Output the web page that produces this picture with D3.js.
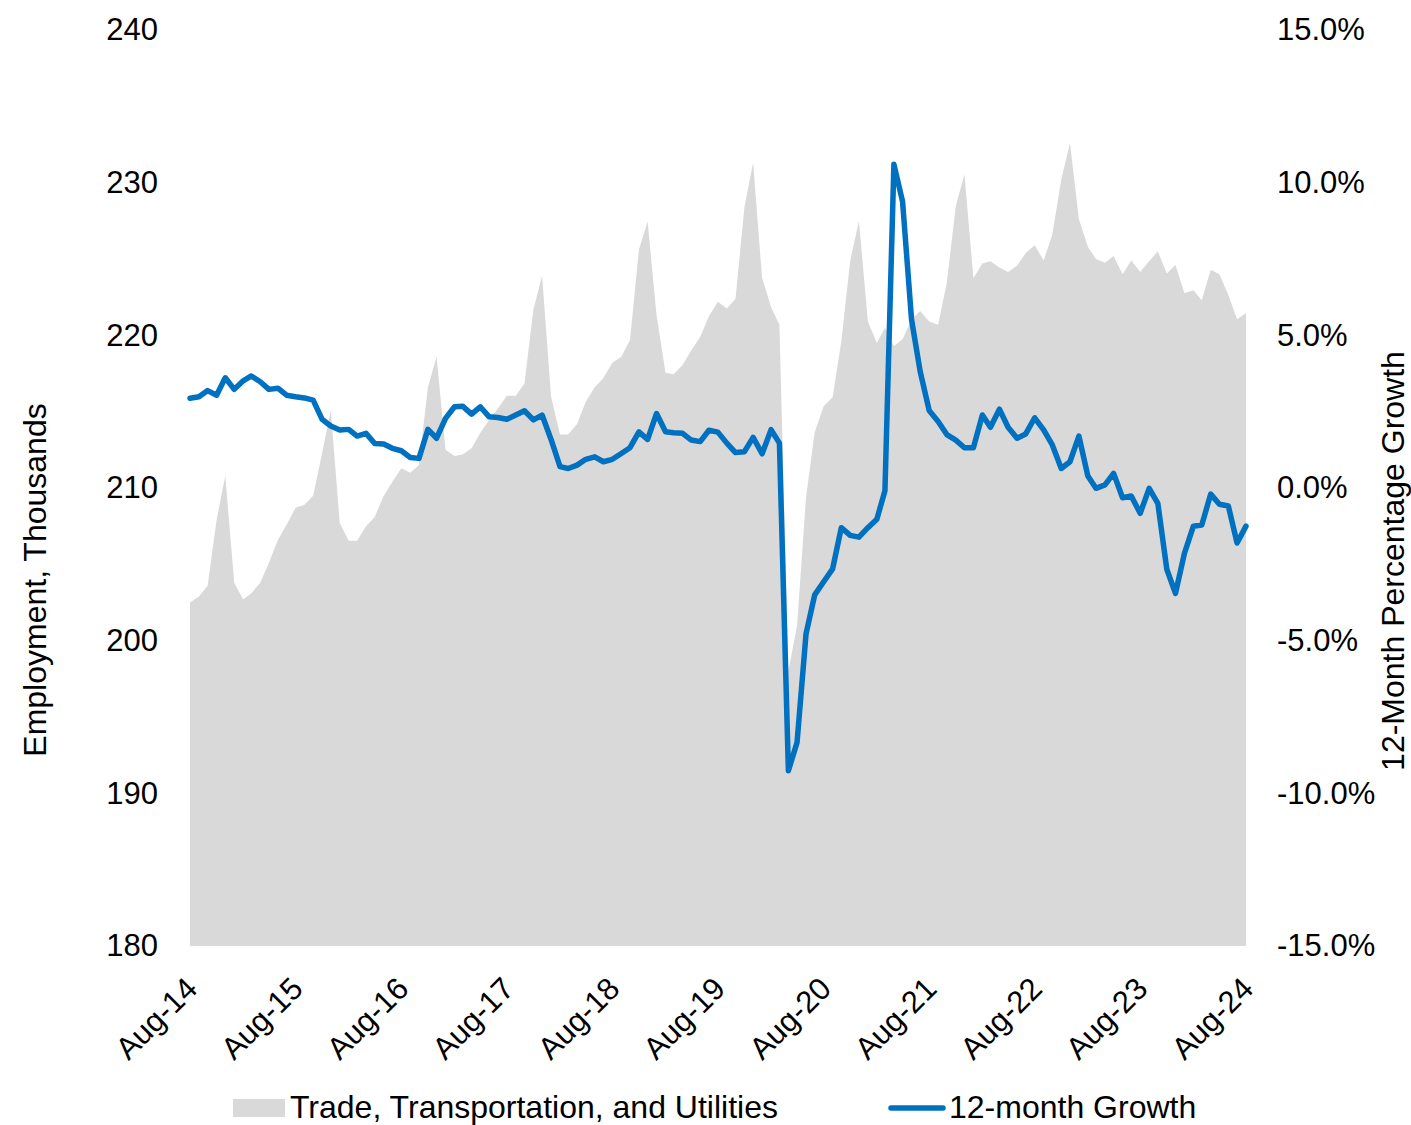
<!DOCTYPE html>
<html>
<head>
<meta charset="utf-8">
<script src="https://cdn.jsdelivr.net/npm/d3@7"></script>
<style>
  html, body { margin: 0; padding: 0; background: #fff; }
  svg text { font-family: "Liberation Sans", Arial, sans-serif; fill: #000; }
</style>
</head>
<body>
<svg id="chart" width="1411" height="1125"></svg>
<script>
// Monthly, Aug 2014 .. Aug 2024
const startMonth = new Date(2014, 7, 1);
const endMonth = new Date(2024, 7, 1);

// Employment, thousands (Trade, Transportation, and Utilities)
const employment = [
  202.5, 202.9, 203.6, 207.9, 210.8, 203.8, 202.7, 203.1, 203.8, 205.1, 206.6, 207.6,
  208.7, 208.9, 209.5, 212.3, 215.1, 207.7, 206.55, 206.55, 207.5, 208.1, 209.5, 210.4,
  211.3, 211.0, 211.5, 216.6, 218.6, 212.5, 212.1, 212.2, 212.6, 213.6, 214.45, 215.2,
  216.05, 216.05, 216.85, 221.7, 223.9, 216.0, 213.5, 213.5, 214.2, 215.65, 216.6, 217.2,
  218.2, 218.6, 219.7, 225.6, 227.45, 221.3, 217.55, 217.45, 218.05, 219.0, 219.9, 221.25,
  222.2, 221.75, 222.4, 228.4, 231.3, 223.75, 221.85, 220.7, 198.0, 201.0, 209.4, 213.65,
  215.35, 215.95, 219.6, 224.9, 227.5, 220.9, 219.5, 220.5, 219.3, 219.75, 221.05, 221.6,
  220.9, 220.7, 223.45, 228.45, 230.55, 223.75, 224.7, 224.85, 224.45, 224.15, 224.55, 225.4,
  225.9, 224.9, 226.6, 230.2, 232.6, 227.6, 225.8, 225.0, 224.75, 225.2, 224.0, 224.9,
  224.15, 224.85, 225.5, 224.05, 224.6, 222.75, 222.95, 222.3, 224.3, 224.0, 222.65, 221.05,
  221.45
];

// 12-month growth, percent
const growth = [
  2.94, 2.99, 3.19, 3.04, 3.61, 3.23, 3.51, 3.67, 3.48, 3.23, 3.27, 3.04,
  2.99, 2.95, 2.88, 2.25, 2.03, 1.90, 1.92, 1.70, 1.79, 1.46, 1.44, 1.30,
  1.22, 1.00, 0.97, 1.92, 1.63, 2.28, 2.66, 2.68, 2.42, 2.66, 2.33, 2.31,
  2.25, 2.39, 2.53, 2.23, 2.39, 1.59, 0.70, 0.64, 0.75, 0.94, 1.02, 0.86,
  0.94, 1.13, 1.32, 1.84, 1.59, 2.44, 1.84, 1.81, 1.79, 1.57, 1.52, 1.89,
  1.83, 1.47, 1.16, 1.19, 1.66, 1.12, 1.91, 1.47, -9.26, -8.33, -4.78, -3.50,
  -3.07, -2.65, -1.30, -1.55, -1.61, -1.30, -1.02, -0.09, 10.60, 9.38, 5.52, 3.81,
  2.54, 2.18, 1.75, 1.57, 1.32, 1.32, 2.39, 1.99, 2.58, 1.99, 1.63, 1.77,
  2.30, 1.90, 1.41, 0.64, 0.86, 1.70, 0.39, -0.01, 0.10, 0.48, -0.32, -0.26,
  -0.83, -0.01, -0.50, -2.66, -3.45, -2.14, -1.25, -1.21, -0.20, -0.53, -0.59, -1.80,
  -1.25
];

const leftTicks = [180, 190, 200, 210, 220, 230, 240];
const rightTicks = [-15, -10, -5, 0, 5, 10, 15];
const xTickLabels = ["Aug-14", "Aug-15", "Aug-16", "Aug-17", "Aug-18", "Aug-19",
                     "Aug-20", "Aug-21", "Aug-22", "Aug-23", "Aug-24"];

const seriesNames = ["Trade, Transportation, and Utilities", "12-month Growth"];

const months = d3.timeMonth.range(startMonth, d3.timeMonth.offset(endMonth, 1));
const data = months.map((d, i) => ({ date: d, emp: employment[i], g: growth[i] }));

const svg = d3.select("#chart");
const FS = 31;
const FONT = "Liberation Sans, Arial, sans-serif";
const plot = { left: 190, right: 1246, top: 30, bottom: 946 };

const x = d3.scaleTime().domain([startMonth, endMonth]).range([plot.left, plot.right]);
const yL = d3.scaleLinear().domain([180, 240]).range([plot.bottom, plot.top]);
const yR = d3.scaleLinear().domain([-15, 15]).range([plot.bottom, plot.top]);

// Area
const area = d3.area()
  .x(d => x(d.date))
  .y0(plot.bottom)
  .y1(d => yL(d.emp));
svg.append("path").datum(data)
  .attr("d", area)
  .attr("fill", "#d9d9d9");

// Line
const line = d3.line()
  .x(d => x(d.date))
  .y(d => yR(d.g));
svg.append("path").datum(data)
  .attr("d", line)
  .attr("fill", "none")
  .attr("stroke", "#0070c0")
  .attr("stroke-width", 5.5)
  .attr("stroke-linejoin", "round")
  .attr("stroke-linecap", "round");

// Left axis
const leftAxis = d3.axisLeft(yL).tickValues(leftTicks).tickSize(0).tickPadding(32)
  .tickFormat(d3.format("d"));
const gL = svg.append("g").attr("transform", `translate(${plot.left},0)`).call(leftAxis);
gL.select(".domain").remove();
gL.selectAll("text").style("font-size", FS + "px").style("font-family", FONT);

// Right axis (hyphen-minus like the original)
const rightAxis = d3.axisRight(yR).tickValues(rightTicks).tickSize(0).tickPadding(31)
  .tickFormat(d => (d < 0 ? "-" : "") + Math.abs(d).toFixed(1) + "%");
const gR = svg.append("g").attr("transform", `translate(${plot.right},0)`).call(rightAxis);
gR.select(".domain").remove();
gR.selectAll("text").style("font-size", FS + "px").style("font-family", FONT);

// X axis
const xTickDates = xTickLabels.map((_, i) => d3.timeMonth.offset(startMonth, i * 12));
const xAxis = d3.axisBottom(x).tickValues(xTickDates).tickSize(0)
  .tickFormat((d, i) => xTickLabels[i]);
const gX = svg.append("g").attr("transform", `translate(0,${plot.bottom})`).call(xAxis);
gX.select(".domain").remove();
gX.selectAll("text")
  .style("font-size", FS + "px")
  .style("font-family", FONT)
  .attr("text-anchor", "end")
  .attr("dy", "0.35em")
  .attr("y", 0)
  .attr("transform", "translate(1,37) rotate(-45)");

// Axis titles
svg.append("text")
  .attr("transform", `translate(46,580) rotate(-90)`)
  .attr("text-anchor", "middle")
  .style("font-size", "32px")
  .text("Employment, Thousands");

svg.append("text")
  .attr("transform", `translate(1404,561) rotate(-90)`)
  .attr("text-anchor", "middle")
  .style("font-size", "32px")
  .text("12-Month Percentage Growth");

// Legend
const lg = svg.append("g");
lg.append("rect").attr("x", 233).attr("y", 1099).attr("width", 52).attr("height", 18).attr("fill", "#d9d9d9");
lg.append("text").attr("x", 290).attr("y", 1118).style("font-size", "32px").text(seriesNames[0]);
lg.append("line").attr("x1", 891).attr("x2", 943).attr("y1", 1108).attr("y2", 1108)
  .attr("stroke", "#0070c0").attr("stroke-width", 5.5).attr("stroke-linecap", "round");
lg.append("text").attr("x", 949).attr("y", 1118).style("font-size", "32px").text(seriesNames[1]);
</script>
</body>
</html>
